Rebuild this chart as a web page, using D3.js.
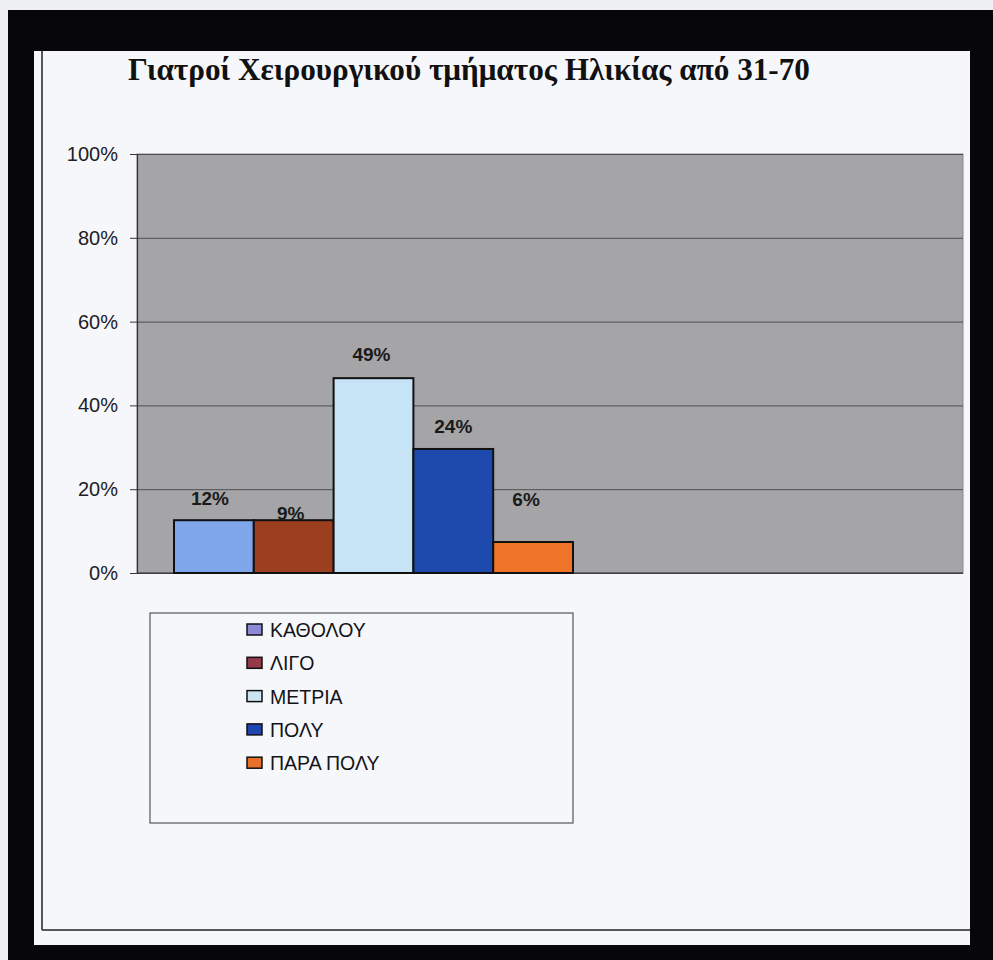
<!DOCTYPE html>
<html>
<head>
<meta charset="utf-8">
<script src="https://cdn.jsdelivr.net/npm/d3@7"></script>
<style>
  html, body { margin: 0; padding: 0; background: #eef0f3; }
  svg { display: block; }
</style>
</head>
<body>
<script>
// ---- data ----
const title = "Γιατροί Χειρουργικού τμήματος Ηλικίας από 31-70";
const series = ["ΚΑΘΟΛΟΥ", "ΛΙΓΟ", "ΜΕΤΡΙΑ", "ΠΟΛΥ", "ΠΑΡΑ ΠΟΛΥ"];
const values = [12.6, 12.6, 46.5, 29.6, 7.4];          // bar heights as drawn (%)
const valueLabels = ["12%", "9%", "49%", "24%", "6%"]; // data labels as printed
const yTicks = [0, 20, 40, 60, 80, 100];

// ---- styles / layout ----
const barColors = ["#7fa6ea", "#9b3f1f", "#c7e3f6", "#1e4aae", "#ef7428"];
const legendColors = ["#8a8ad6", "#953a4a", "#c9e6f2", "#1f45b0", "#e8702a"];
const labelNudge = { dx: [-4, -3, -2, 0, -7], dy: [-15, 0, -17, -16, -36] };

const W = 993, H = 960;
const plot = { left: 137, right: 963, top: 154, bottom: 573 };
const barSpan = [174, 573];

const svg = d3.select("body").append("svg").attr("width", W).attr("height", H);

// frame
svg.append("rect").attr("x", 8).attr("y", 10).attr("width", W - 8).attr("height", H - 10).attr("fill", "#070709");
svg.append("rect").attr("x", 34).attr("y", 51).attr("width", 936).attr("height", 894).attr("fill", "#f6f7fb");
svg.append("line").attr("x1", 42).attr("x2", 42).attr("y1", 51).attr("y2", 930).attr("stroke", "#222").attr("stroke-width", 1.5);
svg.append("line").attr("x1", 42).attr("x2", 970).attr("y1", 930).attr("y2", 930).attr("stroke", "#222").attr("stroke-width", 1.5);

// title
const t = svg.append("text").attr("x", 128).attr("y", 80)
  .attr("font-family", "'Liberation Serif', 'Times New Roman', serif")
  .attr("font-weight", "bold").attr("font-size", 27).attr("fill", "#111").text(title);
const tw = t.node().getComputedTextLength();
if (tw > 0) t.attr("font-size", 27 * 682 / tw);

// scales
const y = d3.scaleLinear().domain([0, 100]).range([plot.bottom, plot.top]);
const x = d3.scaleBand().domain(series).range(barSpan).paddingInner(0);

// plot background
svg.append("rect").attr("x", plot.left).attr("y", plot.top)
  .attr("width", plot.right - plot.left).attr("height", plot.bottom - plot.top)
  .attr("fill", "#a5a5a8").attr("stroke", "#8a8a8e").attr("stroke-width", 1);

// gridlines
const grid = svg.append("g").attr("transform", `translate(${plot.left},0)`)
  .call(d3.axisLeft(y).tickValues(yTicks).tickSize(-(plot.right - plot.left)).tickFormat(""));
grid.select(".domain").remove();
grid.selectAll("line").attr("stroke", "#4e4e52").attr("stroke-width", 1);

// y axis
const ax = svg.append("g").attr("transform", `translate(${plot.left},0)`)
  .call(d3.axisLeft(y).tickValues(yTicks).tickSize(7).tickPadding(12).tickFormat(d => d + "%"));
ax.select(".domain").attr("stroke", "#333").attr("stroke-width", 1.2);
ax.selectAll(".tick line").attr("stroke", "#333");
ax.selectAll("text").attr("font-family", "'Liberation Sans', Arial, sans-serif")
  .attr("font-size", 20).attr("fill", "#202024");

// bottom axis line
svg.append("line").attr("x1", plot.left).attr("x2", plot.right)
  .attr("y1", y(0)).attr("y2", y(0)).attr("stroke", "#333").attr("stroke-width", 1.2);

// bars
svg.append("g").selectAll("rect").data(series).join("rect")
  .attr("x", d => x(d)).attr("width", x.bandwidth())
  .attr("y", (d, i) => y(values[i])).attr("height", (d, i) => y(0) - y(values[i]))
  .attr("fill", (d, i) => barColors[i]).attr("stroke", "#111").attr("stroke-width", 2);

// data labels
svg.append("g").selectAll("text").data(series).join("text")
  .attr("x", (d, i) => x(d) + x.bandwidth() / 2 + labelNudge.dx[i])
  .attr("y", (d, i) => y(values[i]) + labelNudge.dy[i])
  .attr("text-anchor", "middle")
  .attr("font-family", "'Liberation Sans', Arial, sans-serif")
  .attr("font-weight", "bold").attr("font-size", 19).attr("fill", "#1a1a1a")
  .text((d, i) => valueLabels[i]);

// legend
const lg = svg.append("g");
lg.append("rect").attr("x", 150).attr("y", 613).attr("width", 423).attr("height", 210)
  .attr("fill", "none").attr("stroke", "#555").attr("stroke-width", 1.2);
const rows = lg.selectAll("g.item").data(series).join("g").attr("class", "item")
  .attr("transform", (d, i) => `translate(247, ${637 + i * 33.3})`);
rows.append("rect").attr("x", 0).attr("y", -13).attr("width", 15).attr("height", 11)
  .attr("fill", (d, i) => legendColors[i]).attr("stroke", "#111").attr("stroke-width", 1.5);
rows.append("text").attr("x", 23).attr("y", 0)
  .attr("font-family", "'Liberation Sans', Arial, sans-serif").attr("font-size", 19.5)
  .attr("fill", "#141418").text(d => d);
</script>
</body>
</html>
